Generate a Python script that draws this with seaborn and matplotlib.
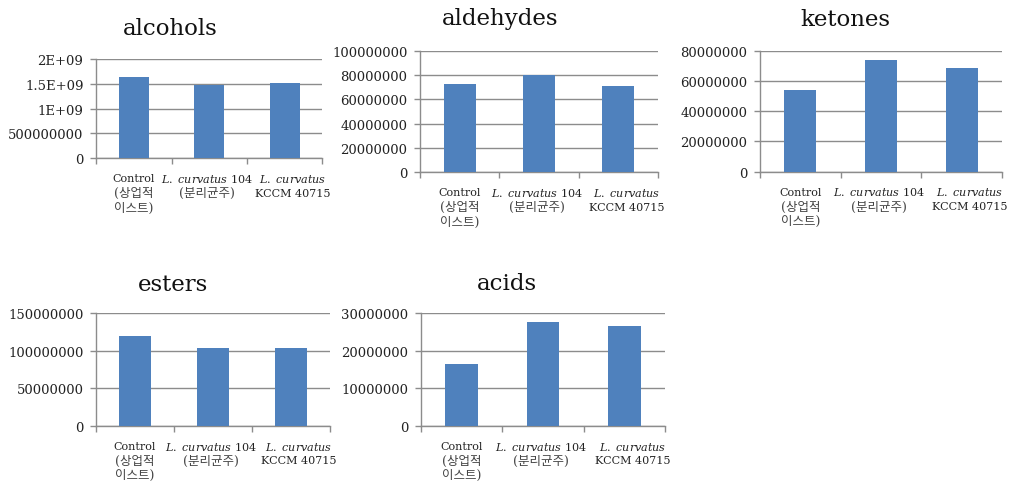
import matplotlib
matplotlib.use("Agg")
import matplotlib.pyplot as plt
import matplotlib.transforms as mtransforms
import pandas as pd
import seaborn as sns

# Total peak area of volatile compound classes per yeast treatment
groups = ["Control", "L. curvatus 104", "L. curvatus KCCM 40715"]
alcohols = [1.64e9, 1.475e9, 1.51e9]
aldehydes = [72.6e6, 80.2e6, 70.7e6]
ketones = [54.2e6, 74.0e6, 68.4e6]
esters = [120.0e6, 103.5e6, 103.5e6]
acids = [16.5e6, 27.8e6, 26.7e6]

# Category labels, one list per text line
label_line1 = ["Control", r"$\mathit{L.\ curvatus}$ 104", r"$\mathit{L.\ curvatus}$"]
label_line2 = ["(상업적", "(분리균주)", "KCCM 40715"]
label_line3 = ["이스트)", "", ""]

# Y tick values and their printed labels
alcohol_ticks = [0, 5e8, 1e9, 1.5e9, 2e9]
alcohol_ticklabels = ["0", "500000000", "1E+09", "1.5E+09", "2E+09"]
aldehyde_ticks = [0, 20e6, 40e6, 60e6, 80e6, 100e6]
ketone_ticks = [0, 20e6, 40e6, 60e6, 80e6]
ester_ticks = [0, 50e6, 100e6, 150e6]
acid_ticks = [0, 10e6, 20e6, 30e6]

W, H = 1011, 485
BAR = "#4F81BD"
GRID = "#8c8c8c"
TEXT = "#222222"

sns.set_theme(style="white")
plt.rcParams["font.family"] = ["DejaVu Serif", "Noto Sans CJK KR"]
plt.rcParams["mathtext.fontset"] = "custom"
plt.rcParams["mathtext.it"] = "DejaVu Serif:italic"
plt.rcParams["mathtext.rm"] = "DejaVu Serif"

fig = plt.figure(figsize=(W / 100, H / 100), dpi=100)
fig.patch.set_facecolor("white")

# (name, values, ticks, ticklabels, axes box in px: left, right, top, bottom, title x, title baseline)
panels = [
    ("alcohols", alcohols, alcohol_ticks, alcohol_ticklabels, (96, 322.5, 60, 159.3), (170, 35)),
    ("aldehydes", aldehydes, aldehyde_ticks, None, (420, 658, 51.7, 173.3), (500, 25)),
    ("ketones", ketones, ketone_ticks, None, (760, 1002, 51.7, 172.5), (845, 26)),
    ("esters", esters, ester_ticks, None, (96, 330, 314.3, 426.7), (173, 291.5)),
    ("acids", acids, acid_ticks, None, (420.7, 665, 314.3, 426.7), (507, 290)),
]

for name, values, ticks, ticklabels, (l, r, t, b), (tx, ty) in panels:
    ax = fig.add_axes([l / W, 1 - b / H, (r - l) / W, (b - t) / H])
    df = pd.DataFrame({"group": groups, "value": values})
    sns.barplot(data=df, x="group", y="value", order=groups, ax=ax,
                color=BAR, saturation=1, width=0.4, zorder=3,
                edgecolor=BAR, linewidth=0)
    ax.set_xlim(-0.5, 2.5)
    ax.set_ylim(ticks[0], ticks[-1])
    ax.set_xlabel("")
    ax.set_ylabel("")

    ax.set_yticks(ticks)
    if ticklabels is None:
        ticklabels = [f"{v:.0f}" for v in ticks]
    ax.set_yticklabels(ticklabels)
    ax.yaxis.grid(True, color=GRID, linewidth=1.0)
    ax.xaxis.grid(False)
    ax.set_axisbelow(True)

    ax.set_xticks([-0.5, 0.5, 1.5, 2.5])
    ax.set_xticklabels([])
    ax.tick_params(axis="x", which="major", bottom=True, direction="out",
                   length=4, width=1, color=GRID)
    ax.tick_params(axis="y", which="major", left=True, direction="out",
                   length=4, width=1, color=GRID, pad=5, labelsize=9.5,
                   labelcolor=TEXT)

    for side in ("top", "right"):
        ax.spines[side].set_visible(False)
    for side in ("left", "bottom"):
        ax.spines[side].set_color(GRID)
        ax.spines[side].set_linewidth(1.0)

    # Category labels in up to three centred lines beneath each bar;
    # Hangul lines are set a little larger and lighter than the Latin ones
    for i in range(len(groups)):
        dx = {0: 0, 1: -2, 2: 8}[i]
        for k, line in enumerate((label_line1[i], label_line2[i], label_line3[i])):
            if not line:
                continue
            hangul = any(ord(c) > 0x3000 for c in line)
            tr = mtransforms.offset_copy(ax.get_xaxis_transform(), fig=fig,
                                         x=dx, y=-(20 + 14.5 * k), units="dots")
            ax.text(i, 0, line, transform=tr, ha="center", va="center",
                    fontsize=9 if hangul else 8,
                    color="#444444" if hangul else TEXT, clip_on=False)

    fig.text(tx / W, 1 - ty / H, name, ha="center", va="baseline",
             fontsize=16.5, color="#111111", family="DejaVu Serif")

fig.savefig("out.png", dpi=100, facecolor="white")
